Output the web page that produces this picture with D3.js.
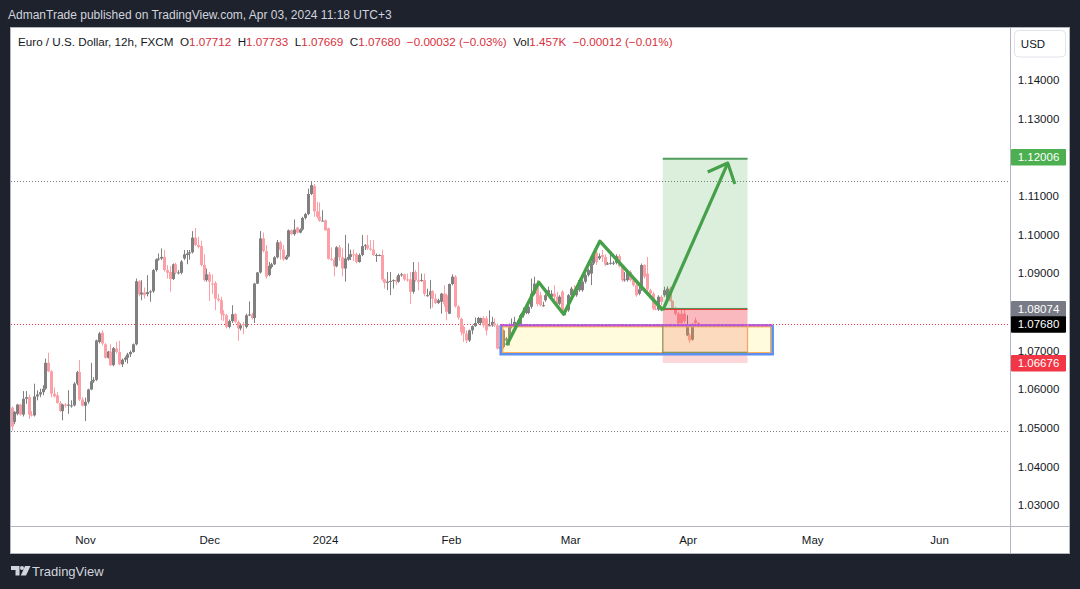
<!DOCTYPE html>
<html><head><meta charset="utf-8">
<script src="https://cdnjs.cloudflare.com/ajax/libs/d3/7.8.5/d3.min.js"></script>
<style>html,body{margin:0;padding:0;background:#1e222d;overflow:hidden}svg{display:block}text{font-family:"Liberation Sans",Arial,sans-serif}</style>
</head><body><svg id="c" width="1080" height="589"></svg>
<script>
const priceTicks=[1.03,1.04,1.05,1.06,1.07,1.09,1.10,1.11,1.13,1.14];
const monthLabels=["Nov","Dec","2024","Feb","Mar","Apr","May","Jun"];
const monthIndex=[26,70,111,155.6,197.8,239.4,283.5,328.4];
const opens=[1.0552,1.0515,1.0536,1.0560,1.0534,1.0575,1.0579,1.0534,1.0532,1.0581,
1.0586,1.0592,1.0601,1.0668,1.0646,1.0588,1.0584,1.0564,1.0543,1.0560,
1.0557,1.0557,1.0558,1.0614,1.0644,1.0573,1.0557,1.0567,1.0599,1.0620,
1.0624,1.0722,1.0746,1.0716,1.0681,1.0697,1.0662,1.0705,1.0696,1.0664,
1.0676,1.0681,1.0690,1.0696,1.0716,1.0879,1.0845,1.0850,1.0846,1.0851,
1.0853,1.0908,1.0936,1.0938,1.0942,1.0908,1.0903,1.0885,1.0923,1.0901,
1.0901,1.0938,1.0947,1.0951,1.0954,1.0992,1.0973,1.0970,1.0921,1.0882,
1.0897,1.0873,1.0875,1.0834,1.0830,1.0795,1.0791,1.0761,1.0776,1.0794,
1.0774,1.0757,1.0768,1.0761,1.0791,1.0793,1.0784,1.0873,1.0902,1.0990,
1.0957,1.0895,1.0916,1.0923,1.0941,1.0980,1.0961,1.0936,1.0943,1.1011,
1.1001,1.1018,1.1005,1.1013,1.1043,1.1053,1.1105,1.1126,1.1060,1.1046,
1.1036,1.1037,1.1016,1.0937,1.0935,1.0918,1.0967,1.0941,1.0912,1.0935,
1.0942,1.0949,1.0949,1.0929,1.0947,1.0970,1.0973,1.0964,1.0961,1.0947,
1.0947,1.0947,1.0884,1.0875,1.0878,1.0880,1.0882,1.0878,1.0895,1.0897,
1.0884,1.0884,1.0852,1.0903,1.0882,1.0882,1.0882,1.0843,1.0843,1.0853,
1.0834,1.0823,1.0826,1.0847,1.0843,1.0795,1.0872,1.0891,1.0814,1.0782,
1.0761,1.0744,1.0726,1.0752,1.0763,1.0771,1.0771,1.0784,1.0783,1.0765,
1.0765,1.0770,1.0765,1.0705,1.0709,1.0726,1.0731,1.0761,1.0765,1.0770,
1.0765,1.0791,1.0797,1.0797,1.0813,1.0847,1.0873,1.0843,1.0817,1.0830,
1.0843,1.0839,1.0847,1.0839,1.0821,1.0852,1.0800,1.0804,1.0843,1.0858,
1.0843,1.0856,1.0856,1.0878,1.0895,1.0899,1.0925,1.0953,1.0938,1.0947,
1.0942,1.0925,1.0925,1.0925,1.0927,1.0944,1.0918,1.0882,1.0882,1.0903,
1.0882,1.0869,1.0847,1.0858,1.0921,1.0899,1.0856,1.0847,1.0808,1.0806,
1.0839,1.0843,1.0830,1.0860,1.0828,1.0808,1.0795,1.0795,1.0795,1.0739,
1.0739,1.0728,1.0778,1.0771];
const closes=[1.0503,1.0541,1.0560,1.0534,1.0575,1.0579,1.0534,1.0532,1.0581,1.0586,
1.0592,1.0601,1.0668,1.0646,1.0588,1.0581,1.0564,1.0543,1.0560,1.0557,
1.0560,1.0558,1.0614,1.0644,1.0573,1.0557,1.0567,1.0599,1.0620,1.0624,
1.0726,1.0744,1.0718,1.0681,1.0697,1.0662,1.0706,1.0696,1.0664,1.0676,
1.0681,1.0690,1.0696,1.0716,1.0879,1.0845,1.0850,1.0843,1.0851,1.0853,
1.0908,1.0936,1.0938,1.0942,1.0908,1.0901,1.0885,1.0923,1.0901,1.0902,
1.0930,1.0949,1.0951,1.0954,1.0992,1.0973,1.0968,1.0921,1.0882,1.0897,
1.0878,1.0872,1.0834,1.0830,1.0795,1.0791,1.0761,1.0776,1.0794,1.0774,
1.0757,1.0765,1.0765,1.0791,1.0793,1.0784,1.0873,1.0902,1.0990,1.0957,
1.0891,1.0919,1.0923,1.0941,1.0980,1.0961,1.0936,1.0943,1.1011,1.1001,
1.1013,1.1005,1.1013,1.1043,1.1053,1.1105,1.1128,1.1060,1.1046,1.1036,
1.1036,1.1011,1.0937,1.0935,1.0918,1.0967,1.0941,1.0912,1.0938,1.0942,
1.0949,1.0947,1.0929,1.0947,1.0970,1.0973,1.0964,1.0961,1.0947,1.0947,
1.0947,1.0884,1.0875,1.0878,1.0880,1.0882,1.0878,1.0895,1.0897,1.0884,
1.0882,1.0852,1.0903,1.0882,1.0878,1.0882,1.0846,1.0843,1.0853,1.0834,
1.0823,1.0830,1.0847,1.0821,1.0800,1.0872,1.0891,1.0814,1.0785,1.0748,
1.0744,1.0726,1.0752,1.0763,1.0771,1.0784,1.0784,1.0765,1.0752,1.0765,
1.0774,1.0765,1.0705,1.0709,1.0752,1.0731,1.0765,1.0765,1.0774,1.0765,
1.0791,1.0795,1.0808,1.0813,1.0847,1.0873,1.0820,1.0817,1.0817,1.0843,
1.0856,1.0847,1.0839,1.0821,1.0839,1.0800,1.0804,1.0843,1.0860,1.0843,
1.0865,1.0882,1.0878,1.0895,1.0908,1.0925,1.0951,1.0929,1.0944,1.0942,
1.0922,1.0925,1.0927,1.0927,1.0944,1.0918,1.0882,1.0884,1.0903,1.0882,
1.0869,1.0843,1.0858,1.0921,1.0891,1.0858,1.0847,1.0808,1.0806,1.0839,
1.0826,1.0856,1.0860,1.0828,1.0808,1.0795,1.0770,1.0771,1.0776,1.0763,
1.0726,1.0765,1.0771,1.0768];
const highs=[1.0555,1.0543,1.0562,1.0562,1.0595,1.0595,1.0586,1.0543,1.0614,1.0597,
1.0601,1.0610,1.0679,1.0694,1.0649,1.0604,1.0592,1.0569,1.0562,1.0564,
1.0597,1.0571,1.0618,1.0647,1.0675,1.0579,1.0578,1.0601,1.0668,1.0631,
1.0728,1.0748,1.0752,1.0719,1.0699,1.0716,1.0709,1.0722,1.0725,1.0679,
1.0685,1.0694,1.0700,1.0718,1.0886,1.0882,1.0882,1.0863,1.0895,1.0856,
1.0911,1.0938,1.0951,1.0964,1.0960,1.0921,1.0918,1.0925,1.0927,1.0908,
1.0934,1.0960,1.0960,1.0960,1.1009,1.1017,1.0994,1.0984,1.0949,1.0912,
1.0903,1.0897,1.0879,1.0846,1.0839,1.0804,1.0795,1.0780,1.0817,1.0797,
1.0778,1.0770,1.0774,1.0795,1.0827,1.0797,1.0875,1.0903,1.1009,1.1005,
1.0973,1.0929,1.0927,1.0944,1.0986,1.0984,1.0973,1.0947,1.1013,1.1013,
1.1039,1.1020,1.1016,1.1046,1.1056,1.1119,1.1138,1.1131,1.1085,1.1083,
1.1063,1.1039,1.1018,1.0967,1.0941,1.0970,1.0973,1.0964,1.0999,1.0977,
1.0961,1.0961,1.0953,1.0951,1.0999,1.0975,1.0999,1.0986,1.0986,1.0951,
1.0949,1.0961,1.0886,1.0903,1.0903,1.0884,1.0891,1.0899,1.0901,1.0899,
1.0899,1.0903,1.0929,1.0908,1.0929,1.0899,1.0899,1.0860,1.0882,1.0856,
1.0847,1.0834,1.0849,1.0869,1.0847,1.0873,1.0897,1.0895,1.0817,1.0785,
1.0765,1.0752,1.0754,1.0765,1.0785,1.0787,1.0785,1.0789,1.0789,1.0804,
1.0787,1.0783,1.0770,1.0726,1.0754,1.0735,1.0770,1.0783,1.0787,1.0778,
1.0795,1.0811,1.0813,1.0817,1.0886,1.0891,1.0882,1.0852,1.0826,1.0847,
1.0865,1.0856,1.0869,1.0852,1.0843,1.0856,1.0808,1.0846,1.0865,1.0869,
1.0869,1.0886,1.0882,1.0899,1.0912,1.0929,1.0958,1.0968,1.0951,1.0960,
1.0949,1.0929,1.0951,1.0932,1.0949,1.0949,1.0923,1.0903,1.0908,1.0908,
1.0886,1.0873,1.0865,1.0925,1.0923,1.0942,1.0860,1.0852,1.0817,1.0843,
1.0843,1.0865,1.0866,1.0865,1.0830,1.0813,1.0800,1.0808,1.0808,1.0791,
1.0744,1.0770,1.0785,1.0773];
const lows=[1.0493,1.0509,1.0532,1.0531,1.0529,1.0562,1.0523,1.0529,1.0529,1.0571,
1.0579,1.0584,1.0598,1.0644,1.0579,1.0578,1.0562,1.0541,1.0519,1.0552,
1.0536,1.0552,1.0555,1.0610,1.0569,1.0555,1.0517,1.0562,1.0597,1.0616,
1.0621,1.0718,1.0713,1.0679,1.0679,1.0659,1.0659,1.0692,1.0662,1.0657,
1.0670,1.0666,1.0683,1.0694,1.0713,1.0840,1.0830,1.0834,1.0840,1.0826,
1.0849,1.0904,1.0932,1.0934,1.0904,1.0886,1.0852,1.0882,1.0897,1.0897,
1.0897,1.0934,1.0923,1.0935,1.0951,1.0970,1.0964,1.0918,1.0878,1.0878,
1.0828,1.0846,1.0804,1.0826,1.0778,1.0776,1.0757,1.0757,1.0771,1.0770,
1.0725,1.0752,1.0742,1.0757,1.0789,1.0780,1.0771,1.0872,1.0899,1.0954,
1.0886,1.0892,1.0912,1.0921,1.0938,1.0935,1.0932,1.0934,1.0941,1.0999,
1.0997,1.1003,1.1003,1.1010,1.1039,1.1050,1.1102,1.1046,1.1042,1.1033,
1.1035,1.1010,1.0935,1.0932,1.0892,1.0915,1.0932,1.0892,1.0878,1.0932,
1.0934,1.0932,1.0925,1.0927,1.0944,1.0960,1.0960,1.0958,1.0944,1.0929,
1.0944,1.0880,1.0860,1.0856,1.0843,1.0860,1.0869,1.0875,1.0891,1.0880,
1.0878,1.0820,1.0847,1.0878,1.0856,1.0878,1.0840,1.0839,1.0808,1.0811,
1.0820,1.0820,1.0795,1.0813,1.0778,1.0794,1.0869,1.0811,1.0780,1.0739,
1.0722,1.0719,1.0722,1.0742,1.0761,1.0768,1.0765,1.0759,1.0739,1.0763,
1.0761,1.0761,1.0702,1.0699,1.0705,1.0722,1.0713,1.0757,1.0761,1.0761,
1.0761,1.0785,1.0794,1.0794,1.0808,1.0843,1.0814,1.0814,1.0813,1.0826,
1.0839,1.0834,1.0830,1.0814,1.0817,1.0795,1.0791,1.0800,1.0839,1.0839,
1.0839,1.0852,1.0852,1.0873,1.0891,1.0869,1.0921,1.0921,1.0934,1.0929,
1.0918,1.0921,1.0922,1.0921,1.0923,1.0915,1.0878,1.0878,1.0878,1.0878,
1.0865,1.0839,1.0843,1.0854,1.0886,1.0854,1.0843,1.0804,1.0804,1.0802,
1.0817,1.0839,1.0826,1.0826,1.0806,1.0791,1.0765,1.0765,1.0770,1.0737,
1.0719,1.0725,1.0765,1.0767];
const zigzagIndex=[175.3,186.7,195.5,208.3,230.6];
const zigzagPrice=[1.07135,1.08767,1.07938,1.09829,1.08041];
const arrowIndex=[230.6,253.6];
const arrowPrice=[1.08041,1.1185];
const arrowHeadIndex=[246.5,253.6,256.1];
const arrowHeadPrice=[1.11617,1.1185,1.11306];
const levelPrices=[1.11375,1.0492];
const lastPrice=1.0768, targetPrice=1.12006, toolTopPrice=1.11965, entryPrice=1.08074, stopPrice=1.06676;
const toolIndex=[230.6,260.6];
const zoneIndex=[173.2,269.5];
const zonePrice=[1.07653,1.06902];

const W=1080,H=589;
const svg=d3.select("#c");
const x=d3.scaleLinear().domain([26,328.4]).range([85,939]);
const y=d3.scaleLinear().domain([1.03,1.14]).range([505,80]);
const AX=1010.5, AY=526.5;
svg.append("rect").attr("x",0).attr("y",0).attr("width",W).attr("height",H).attr("fill","#1e222d");
svg.append("rect").attr("x",10.5).attr("y",27.5).attr("width",1059).attr("height",526).attr("fill","#fff").attr("stroke","#b2b5be");
const defs=svg.append("defs");
defs.append("clipPath").attr("id","plot").append("rect").attr("x",11).attr("y",28).attr("width",AX-11).attr("height",AY-28);
const plot=svg.append("g").attr("clip-path","url(#plot)");

// horizontal levels
plot.selectAll("line.lv").data(levelPrices).join("line").attr("class","lv")
 .attr("x1",11).attr("x2",AX).attr("y1",d=>Math.round(y(d))+.5).attr("y2",d=>Math.round(y(d))+.5)
 .attr("stroke","#787b86").attr("stroke-dasharray","1 2");
plot.append("line").attr("x1",11).attr("x2",AX).attr("y1",Math.round(y(lastPrice))+.5).attr("y2",Math.round(y(lastPrice))+.5)
 .attr("stroke","#f23645").attr("stroke-dasharray","1 2");

// candles
const idx=d3.range(opens.length);
const col=i=>closes[i]>=opens[i]?"#808080":"#fba0a6";
plot.selectAll("line.w").data(idx).join("line").attr("class","w")
 .attr("x1",i=>Math.round(x(i))+.5).attr("x2",i=>Math.round(x(i))+.5)
 .attr("y1",i=>y(highs[i])).attr("y2",i=>y(lows[i])).attr("stroke",col);
plot.selectAll("rect.b").data(idx).join("rect").attr("class","b")
 .attr("x",i=>Math.round(x(i))-1).attr("width",3)
 .attr("y",i=>y(Math.max(opens[i],closes[i])))
 .attr("height",i=>Math.max(1,Math.abs(y(opens[i])-y(closes[i]))))
 .attr("fill",col);

// long position tool
const tx0=x(toolIndex[0]),tx1=x(toolIndex[1]);
plot.append("rect").attr("x",tx0).attr("width",tx1-tx0).attr("y",y(toolTopPrice)).attr("height",y(entryPrice)-y(toolTopPrice)).attr("fill","rgba(76,175,80,.2)");
plot.append("rect").attr("x",tx0).attr("width",tx1-tx0).attr("y",y(entryPrice)).attr("height",y(zonePrice[0])-y(entryPrice)).attr("fill","rgba(242,54,69,.35)");
plot.append("rect").attr("x",tx0).attr("width",tx1-tx0).attr("y",y(zonePrice[0])).attr("height",y(stopPrice)-y(zonePrice[0])).attr("fill","rgba(242,54,69,.2)");
plot.append("line").attr("x1",tx0).attr("x2",tx1).attr("y1",y(toolTopPrice)).attr("y2",y(toolTopPrice)).attr("stroke","#4f9d5a").attr("stroke-width",2);
plot.append("line").attr("x1",tx0).attr("x2",tx1).attr("y1",y(entryPrice)-.5).attr("y2",y(entryPrice)-.5).attr("stroke","#4f8f5a").attr("stroke-width",1);
plot.append("line").attr("x1",tx0).attr("x2",tx1).attr("y1",y(entryPrice)+.5).attr("y2",y(entryPrice)+.5).attr("stroke","#e8382f").attr("stroke-width",1);

// demand zone
const zx0=x(zoneIndex[0]),zx1=x(zoneIndex[1]),zy0=y(zonePrice[0]),zy1=y(zonePrice[1]);
plot.append("rect").attr("x",zx0).attr("width",zx1-zx0).attr("y",zy0).attr("height",zy1-zy0).attr("fill","rgba(255,235,59,.18)");
plot.append("rect").attr("x",zx0+2).attr("width",zx1-zx0-4).attr("y",zy0+1.5).attr("height",zy1-zy0-3).attr("fill","none").attr("stroke","#ffa64d").attr("stroke-width",1.3);
plot.append("path").attr("d",`M${zx0},${zy0}V${zy1}H${zx1}V${zy0}`).attr("fill","none").attr("stroke","#5b8ff0").attr("stroke-width",2.6);
plot.append("line").attr("x1",zx0).attr("x2",zx1).attr("y1",zy0).attr("y2",zy0).attr("stroke","#5b8ff0").attr("stroke-width",2);
plot.append("line").attr("x1",zx0).attr("x2",zx1).attr("y1",zy0).attr("y2",zy0).attr("stroke","#e040c8").attr("stroke-width",2).attr("stroke-dasharray","3 1");
plot.append("line").attr("x1",tx0).attr("x2",tx0).attr("y1",zy0).attr("y2",zy1-1).attr("stroke","#8a8a50").attr("stroke-width",1.2);
plot.append("line").attr("x1",tx1).attr("x2",tx1).attr("y1",zy0).attr("y2",zy1-1).attr("stroke","#f0a868").attr("stroke-width",1.2);
plot.append("line").attr("x1",tx0).attr("x2",tx1).attr("y1",zy1-2).attr("y2",zy1-2).attr("stroke","#6f8f4f").attr("stroke-width",1.2);

// drawings
const ln=d3.line().x(d=>x(d[0])).y(d=>y(d[1]));
const gs=(a,b)=>a.map((v,i)=>[v,b[i]]);
plot.append("path").attr("d",ln(gs(zigzagIndex,zigzagPrice))).attr("fill","none").attr("stroke","#45a049").attr("stroke-width",3.4).attr("stroke-linejoin","round");
plot.append("path").attr("d",ln(gs(arrowIndex,arrowPrice))).attr("fill","none").attr("stroke","#45a049").attr("stroke-width",3.2);
plot.append("path").attr("d",ln(gs(arrowHeadIndex,arrowHeadPrice))).attr("fill","none").attr("stroke","#45a049").attr("stroke-width",3.2).attr("stroke-linejoin","round");

// axes
svg.append("line").attr("x1",AX).attr("x2",AX).attr("y1",28).attr("y2",553).attr("stroke","#b2b5be");
svg.append("line").attr("x1",11).attr("x2",1069).attr("y1",AY).attr("y2",AY).attr("stroke","#b2b5be");
const ya=svg.append("g").attr("transform",`translate(${AX},0)`)
 .call(d3.axisRight(y).tickValues(priceTicks).tickSize(0).tickFormat(d3.format(".5f")));
ya.select(".domain").remove();
ya.selectAll("text").attr("x",28).attr("text-anchor","middle").attr("font-size",11.5).attr("fill","#131722").style("font-family",'"Liberation Sans",Arial,sans-serif');
const xa=svg.append("g").attr("transform",`translate(0,${AY})`)
 .call(d3.axisBottom(x).tickValues(monthIndex).tickSize(0).tickPadding(9).tickFormat((d,i)=>monthLabels[i]));
xa.select(".domain").remove();
xa.selectAll("text").attr("font-size",11.5).attr("fill","#131722").style("font-family",'"Liberation Sans",Arial,sans-serif');

// price tags
const tags=[[targetPrice,"#4caf50"],[entryPrice,"#787b86"],[stopPrice,"#f23645"],[lastPrice,"#000"]];
const tg=svg.append("g").selectAll("g").data(tags).join("g").attr("transform",d=>`translate(${AX+.5},${y(d[0])})`);
tg.append("rect").attr("x",0).attr("y",-8).attr("width",55).attr("height",16.5).attr("rx",1).attr("fill",d=>d[1]);
tg.append("text").attr("x",27.5).attr("y",4).attr("text-anchor","middle").attr("font-size",11.5).attr("fill","#fff").text(d=>d3.format(".5f")(d[0]));

// USD button
svg.append("rect").attr("x",1014.5).attr("y",30.5).attr("width",51).attr("height",26.5).attr("rx",4).attr("fill","#fff").attr("stroke","#e0e3eb");
svg.append("text").attr("x",1033).attr("y",48).attr("text-anchor","middle").attr("font-size",11.5).attr("fill","#131722").text("USD");

// header
const red="#d8303c";
const hdr=svg.append("text").attr("x",18).attr("y",45.5).attr("font-size",11.66).attr("fill","#131722").attr("xml:space","preserve");
[["Euro / U.S. Dollar, 12h, FXCM  ",null],["O",null],["1.07712  ",red],["H",null],["1.07733  ",red],["L",null],["1.07669  ",red],["C",null],["1.07680  ",red],["−0.00032 (−0.03%)  ",red],["Vol",null],["1.457K  ",red],["−0.00012 (−0.01%)",red]]
 .forEach(([t,c])=>{const s=hdr.append("tspan").text(t);if(c)s.attr("fill",c);});

// top and bottom captions
svg.append("text").attr("x",8).attr("y",18.5).attr("font-size",12).attr("fill","#d1d4dc").text("AdmanTrade published on TradingView.com, Apr 03, 2024 11:18 UTC+3");
const logo=svg.append("g").attr("transform","translate(11,566)").attr("fill","#d1d4dc");
logo.append("path").attr("d","M0 0H8.5V9.5H4.5V4H0Z");
logo.append("circle").attr("cx",11).attr("cy",2).attr("r",2);
logo.append("path").attr("d","M14 0H19.5L15 9.5H9.8Z");
svg.append("text").attr("x",32).attr("y",576).attr("font-size",13).attr("fill","#d1d4dc").text("TradingView");
</script></body></html>
